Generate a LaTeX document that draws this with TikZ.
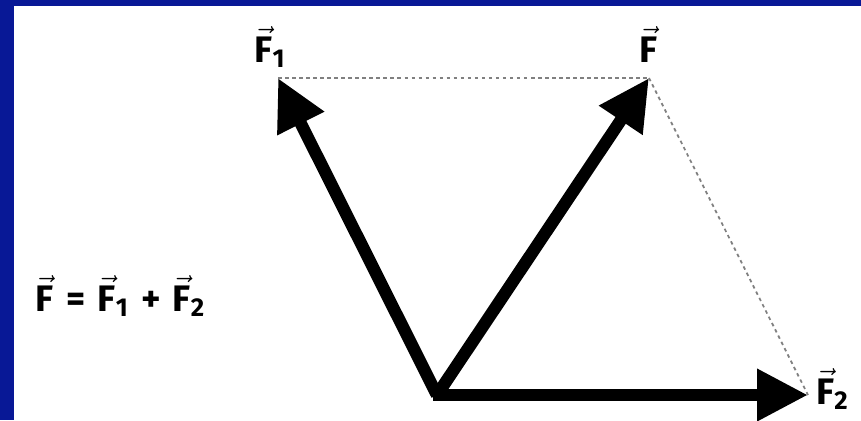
\documentclass[tikz,border=0pt]{standalone}
\usepackage{amsmath}
\usepackage{fontspec}
\setmainfont{Fira Sans}
\usetikzlibrary{arrows.meta}
\usetikzlibrary{positioning}
\definecolor{fundo}{RGB}{8,24,150}

\newcommand{\vecF}[1]{\ensuremath{\vec{\text{\bfseries F}}_{\text{#1}}}}

\tikzset{
  vetor/.style={line width=7pt, -{Triangle[length=29pt,width=28pt]}},
  tracejado/.style={gray, line width=1pt, dash pattern=on 2pt off 2pt},
  rotulo/.style={font=\fontsize{21}{24}\selectfont\bfseries, inner sep=0pt}
}

\begin{document}
\begin{tikzpicture}[x=0.02cm, y=-0.02cm]

% Fundo
\fill[fundo] (0,0) rectangle (861,420);
\fill[white] (14,6) rectangle (861,420);
\useasboundingbox (0,0) rectangle (861,420);

% Pontos
\coordinate (O) at (437,395);
\coordinate (P1) at (278,78);
\coordinate (P) at (649,78);
\coordinate (P2) at (808,395);

% Paralelogramo
\draw[tracejado] (P1) -- (P);
\draw[tracejado] (P) -- (P2);

% Vetores
\draw[vetor] (O) -- (P1);
\draw[vetor] (O) -- (P);
\draw[vetor] ([xshift=-2]O) -- (P2);

% Rotulos
\node[rotulo, anchor=base] (l1) at (270,62) {\vecF{1}};
\node[rotulo, anchor=base] (l) at (649,62) {\vecF{}};
\node[rotulo, anchor=base west] (l2) at (816,404) {\vecF{2}};
\node[rotulo, anchor=base west] (soma) at (35,311)
  {\vecF{}\,\,=\,\,\vecF{1}\,\,+\,\,\vecF{2}};

\end{tikzpicture}
\end{document}
